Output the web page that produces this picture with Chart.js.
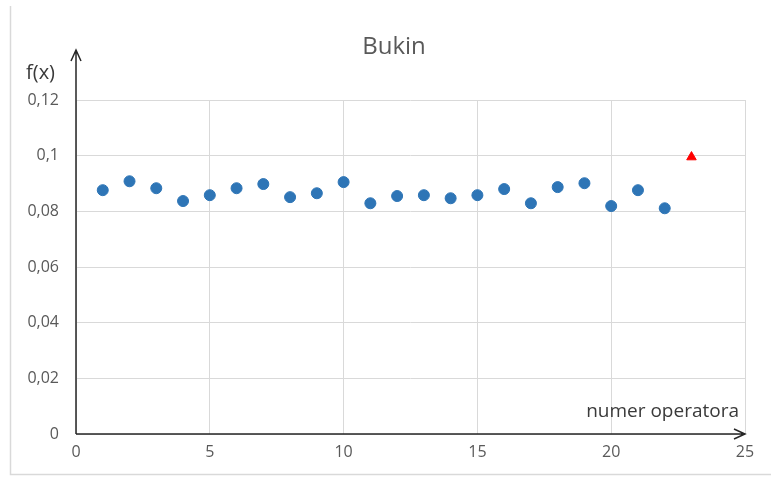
<!DOCTYPE html>
<html>
<head>
<meta charset="utf-8">
<title>Bukin</title>
<script src="https://cdn.jsdelivr.net/npm/chart.js@4"></script>
<style>
  html, body { margin: 0; padding: 0; background: #fff; }
  #wrap { width: 771px; height: 486px; }
</style>
</head>
<body>
<div id="wrap"><canvas id="bukinChart" width="771" height="486"></canvas></div>
<script>
// operator numbers and f(x) values
const operators = [1, 2, 3, 4, 5, 6, 7, 8, 9, 10, 11, 12, 13, 14, 15, 16, 17, 18, 19, 20, 21, 22];
const fValues = [0.0876, 0.0908, 0.0883, 0.0837, 0.0858, 0.0883, 0.0898, 0.0851, 0.0865, 0.0905, 0.0829,
  0.0855, 0.0858, 0.0847, 0.0858, 0.0880, 0.0829, 0.0887, 0.0901, 0.0819, 0.0876, 0.0811];
const bestOperator = [23];
const bestValue = [0.0995];
const xTicks = [0, 5, 10, 15, 20, 25];
const yTicks = [0, 0.02, 0.04, 0.06, 0.08, 0.1, 0.12];

const textGray = '#595959';
const fontFamily = "'Open Sans', 'Liberation Sans', sans-serif";

// axes with arrow heads, outer frame and the free text labels
const decorPlugin = {
  id: 'decor',
  afterDraw(chart) {
    const ctx = chart.ctx;
    const area = chart.chartArea;
    ctx.save();
    // outer frame
    ctx.strokeStyle = '#d9d9d9';
    ctx.lineWidth = 1.5;
    ctx.beginPath();
    ctx.moveTo(10.5, 6);
    ctx.lineTo(10.5, 474.5);
    ctx.lineTo(771, 474.5);
    ctx.stroke();

    // axes
    const x0 = area.left, y0 = area.bottom;
    ctx.strokeStyle = '#262626';
    ctx.lineWidth = 1.5;
    ctx.beginPath();
    ctx.moveTo(x0, y0);
    ctx.lineTo(x0, 50);
    ctx.moveTo(x0, y0);
    ctx.lineTo(area.right, y0);
    // arrow heads
    ctx.moveTo(x0 - 5, 61);
    ctx.lineTo(x0, 50);
    ctx.lineTo(x0 + 5, 61);
    ctx.moveTo(area.right - 11, y0 - 5);
    ctx.lineTo(area.right, y0);
    ctx.lineTo(area.right - 11, y0 + 5);
    ctx.stroke();

    ctx.fillStyle = textGray;
    ctx.textBaseline = 'middle';
    ctx.font = '24px ' + fontFamily;
    ctx.textAlign = 'center';
    ctx.fillText('Bukin', 394, 47);
    ctx.font = '20px ' + fontFamily;
    ctx.fillStyle = '#3a3a3a';
    ctx.textAlign = 'left';
    ctx.fillText('f(x)', 26, 73);
    ctx.font = '19px ' + fontFamily;
    ctx.textAlign = 'right';
    ctx.fillText('numer operatora', 739, 412);
    ctx.restore();
  }
};

const ctx = document.getElementById('bukinChart').getContext('2d');
new Chart(ctx, {
  type: 'scatter',
  data: {
    datasets: [
      {
        label: 'f(x)',
        data: operators.map((o, i) => ({ x: o, y: fValues[i] })),
        backgroundColor: '#2e75b6',
        borderColor: '#2e75b6',
        pointRadius: 5.5,
        pointHoverRadius: 5.5
      },
      {
        label: 'best',
        data: bestOperator.map((o, i) => ({ x: o, y: bestValue[i] })),
        pointStyle: 'triangle',
        backgroundColor: '#ff0000',
        borderColor: '#ff0000',
        pointRadius: 5.5,
        pointHoverRadius: 5.5
      }
    ]
  },
  options: {
    responsive: false,
    animation: false,
    layout: { padding: { left: 10, right: 26, top: 100, bottom: 12 } },
    plugins: {
      legend: { display: false },
      tooltip: { enabled: false }
    },
    scales: {
      x: {
        type: 'linear',
        min: 0,
        max: 25,
        afterFit: (scale) => { scale.height = 40; },
        afterBuildTicks: (scale) => { scale.ticks = xTicks.map(v => ({ value: v })); },
        grid: { color: '#d9d9d9', drawTicks: false },
        border: { display: false },
        ticks: {
          padding: 9,
          color: textGray,
          font: { family: fontFamily, size: 16 },
          callback: (v) => String(v)
        }
      },
      y: {
        min: 0,
        max: 0.12,
        afterFit: (scale) => { scale.width = 66; },
        afterBuildTicks: (scale) => { scale.ticks = yTicks.map(v => ({ value: v })); },
        grid: { color: '#d9d9d9', drawTicks: false },
        border: { display: false },
        ticks: {
          padding: 17,
          color: textGray,
          font: { family: fontFamily, size: 16 },
          callback: (v) => String(Math.round(v * 100) / 100).replace('.', ',')
        }
      }
    }
  },
  plugins: [decorPlugin]
});
</script>
</body>
</html>
